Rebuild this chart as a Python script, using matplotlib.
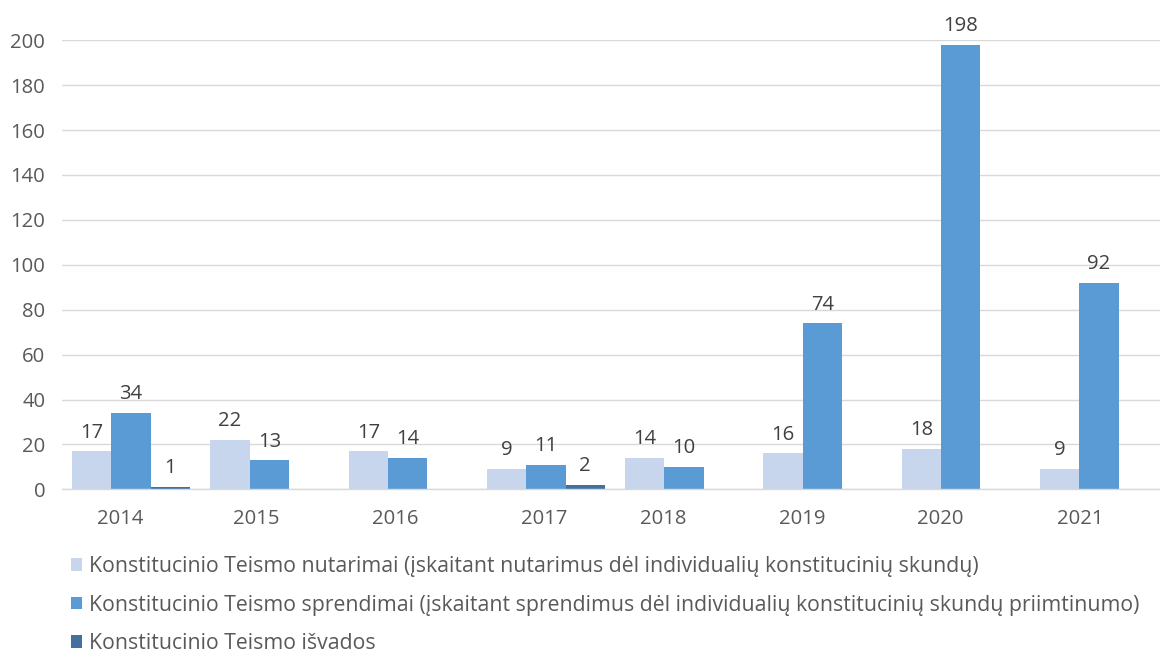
import matplotlib
matplotlib.use("Agg")
import matplotlib.pyplot as plt
import matplotlib.transforms as mtransforms
import numpy as np

plt.rcParams['font.family'] = ['Open Sans', 'DejaVu Sans']

years = ['2014', '2015', '2016', '2017', '2018', '2019', '2020', '2021']
nutarimai = [17, 22, 17, 9, 14, 16, 18, 9]
sprendimai = [34, 13, 14, 11, 10, 74, 198, 92]
isvados = [1, None, None, 2, None, None, None, None]

series_names = [
    'Konstitucinio Teismo nutarimai (įskaitant nutarimus dėl individualių konstitucinių skundų)',
    'Konstitucinio Teismo sprendimai (įskaitant sprendimus dėl individualių konstitucinių skundų priimtinumo)',
    'Konstitucinio Teismo išvados',
]
colors = ['#C7D6EC', '#5B9BD5', '#41719C']
yticks = [0, 20, 40, 60, 80, 100, 120, 140, 160, 180, 200]

# small horizontal nudges (pixels) of the year labels, as placed in the original
label_nudge_px = [-11, 6.5, 7, -2, -1, 0, -1, 1]

FS = 14.6
LEG_FS = 15.3
TICK_C = '#595959'
LABEL_C = '#404040'
GRID_C = '#D9D9D9'

fig = plt.figure(figsize=(11.6, 6.52), dpi=100)
ax = fig.add_axes([62 / 1160, 1 - 489.3 / 652, 1106 / 1160, (489.3 - 40.3) / 652])

w = 0.284
offsets = [-w, 0.0, w]
all_series = [nutarimai, sprendimai, isvados]

handles = []
for s_idx, (vals, col, name) in enumerate(zip(all_series, colors, series_names)):
    xs, hs = [], []
    for i, v in enumerate(vals):
        if v is None:
            continue
        xs.append(i + offsets[s_idx])
        hs.append(v)
    bars = ax.bar(xs, hs, width=w, color=col, label=name, zorder=3, linewidth=0)
    handles.append(bars)
    for x, h in zip(xs, hs):
        ax.annotate(str(h), (x, h), xytext=(0, 9.8), textcoords='offset points',
                    ha='center', va='baseline', fontsize=FS, color=LABEL_C,
                    annotation_clip=False)

# category label positions: centered on the bars present in each year
tick_pos = []
for i in range(len(years)):
    present = [offsets[s] for s in range(3) if all_series[s][i] is not None]
    tick_pos.append(i + np.mean(present))

ax.set_xticks(tick_pos)
ax.set_xticklabels(years)
ax.set_yticks(yticks)
ax.set_xlim(-0.5, len(years) - 0.5)
ax.set_ylim(0, 200)

ax.tick_params(axis='x', length=0, pad=14, labelsize=FS, labelcolor=TICK_C)
ax.tick_params(axis='y', length=0, pad=12, labelsize=FS, labelcolor=TICK_C)

for lbl, dx in zip(ax.get_xticklabels(), label_nudge_px):
    lbl.set_transform(lbl.get_transform() +
                      mtransforms.ScaledTranslation(dx / 100, 0, fig.dpi_scale_trans))

ax.grid(axis='y', color=GRID_C, linewidth=1, zorder=0)
for sp in ['top', 'right', 'left']:
    ax.spines[sp].set_visible(False)
ax.spines['bottom'].set_color(GRID_C)
ax.spines['bottom'].set_linewidth(1)
ax.spines['bottom'].set_zorder(4)

leg = ax.legend(handles=handles, loc='upper left',
                bbox_to_anchor=(71 / 1160, 1 - 556 / 652),
                bbox_transform=fig.transFigure, frameon=False, ncol=1,
                fontsize=LEG_FS, handlelength=0.54, handleheight=0.54,
                handletextpad=0.31, labelspacing=0.83, borderpad=0,
                borderaxespad=0)
for t in leg.get_texts():
    t.set_color(TICK_C)

fig.savefig('out.png', dpi=100)
